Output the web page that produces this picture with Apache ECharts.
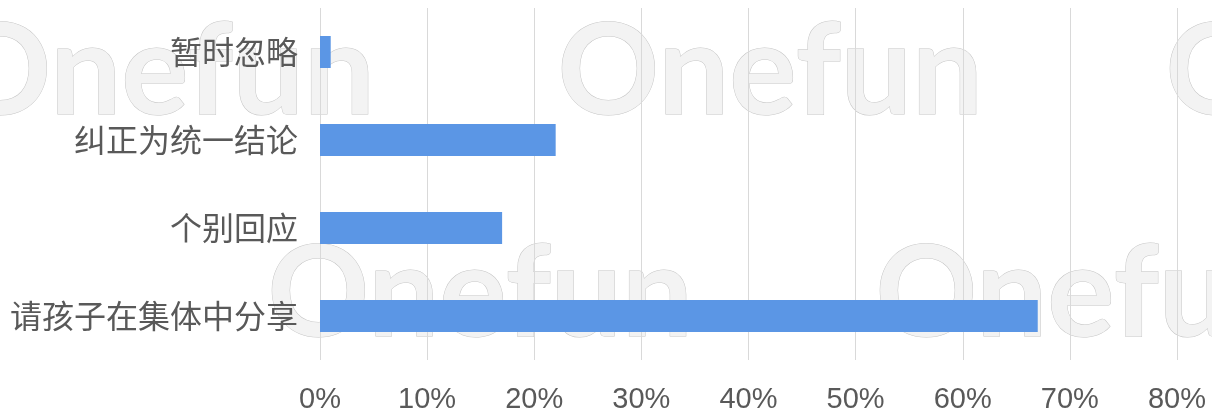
<!DOCTYPE html>
<html>
<head>
<meta charset="utf-8">
<title>课堂应对方式</title>
<script src="https://cdn.jsdelivr.net/npm/echarts@6/dist/echarts.min.js"></script>
<style>
  html, body { margin: 0; padding: 0; background: #ffffff; }
  #chart { width: 1212px; height: 414px; }
</style>
</head>
<body>
<div id="chart"></div>
<script>
// Response options, listed top to bottom
const categories = ['暂时忽略', '纠正为统一结论', '个别回应', '请孩子在集体中分享'];
// Share of respondents (%)
const shares = [1, 22, 17, 67];
// X axis range and step (%)
const axisMax = 80;
const axisStep = 10;

// Tiled background watermark
const watermarkText = 'Onefun';
const watermarkSpots = [
  [-51, 10], [557, 10], [1165, 10],
  [267, 232], [875, 232]
];

const chart = echarts.init(document.getElementById('chart'), null, { renderer: 'canvas' });

const watermark = watermarkSpots.map(function (p) {
  return {
    type: 'text',
    left: p[0],
    top: p[1],
    z: -10,
    silent: true,
    style: {
      text: watermarkText,
      font: 'bold 126px Lato, "Noto Sans", sans-serif',
      fill: '#f3f3f3',
      stroke: '#c6c6c6',
      lineWidth: 1
    }
  };
});

chart.setOption({
  backgroundColor: '#ffffff',
  animation: false,
  graphic: watermark,
  grid: {
    left: 320,
    right: 35,
    top: 8,
    bottom: 52,
    containLabel: false
  },
  xAxis: {
    type: 'value',
    min: 0,
    max: axisMax,
    interval: axisStep,
    axisLine: { show: false },
    axisTick: { show: false },
    splitLine: { show: true, lineStyle: { color: '#d9d9d9', width: 1 } },
    axisLabel: {
      margin: 25,
      color: '#595959',
      fontSize: 29,
      fontFamily: '"Liberation Sans", Arial, sans-serif',
      formatter: '{value}%'
    }
  },
  yAxis: {
    type: 'category',
    data: categories,
    inverse: true,
    axisLine: { show: false },
    axisTick: { show: false },
    splitLine: { show: false },
    axisLabel: {
      margin: 22,
      color: '#595959',
      fontSize: 32,
      fontFamily: '"Noto Sans CJK SC", "Microsoft YaHei", sans-serif'
    }
  },
  series: [{
    type: 'bar',
    data: shares,
    barWidth: 32,
    itemStyle: { color: '#5b96e5' }
  }]
});
</script>
</body>
</html>
